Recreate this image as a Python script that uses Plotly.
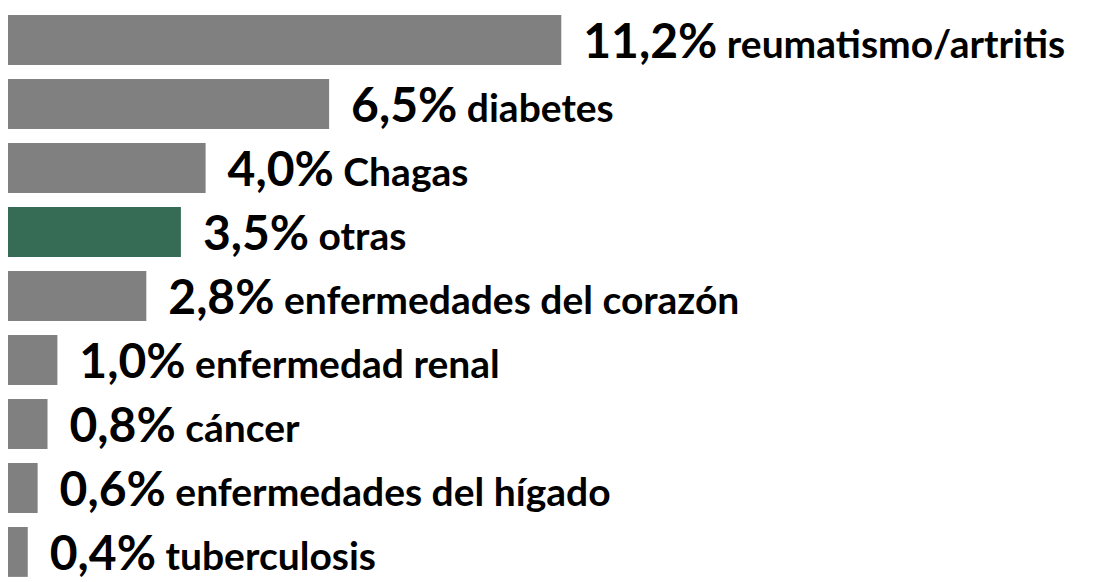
import plotly.graph_objects as go

categories = ["reumatismo/artritis", "diabetes", "Chagas", "otras",
              "enfermedades del corazón", "enfermedad renal", "cáncer",
              "enfermedades del hígado", "tuberculosis"]
values = [11.2, 6.5, 4.0, 3.5, 2.8, 1.0, 0.8, 0.6, 0.4]
highlight = "otras"

GRAY = "#808080"
GREEN = "#366B55"
colors = [GREEN if c == highlight else GRAY for c in categories]

def fmt(v):
    return f"{v:.1f}".replace(".", ",") + "%"

texts = ["\u00a0\u00a0<span style='font-size:48px'>" + fmt(v) + "</span> " + c
         for c, v in zip(categories, values)]

fig = go.Figure(go.Bar(
    x=values,
    y=categories,
    orientation="h",
    marker=dict(color=colors, line=dict(width=0)),
    text=texts,
    textposition="outside",
    textfont=dict(family="Lato, 'Open Sans', sans-serif", size=39, color="#000000", weight="bold"),
    constraintext="none",
    cliponaxis=False,
    hoverinfo="skip",
))

W, H = 1093, 582
px_per_unit = 49.4
x0_px = 8
fig.update_layout(
    width=W, height=H,
    margin=dict(l=0, r=0, t=0, b=0),
    paper_bgcolor="white",
    plot_bgcolor="white",
    showlegend=False,
    bargap=0.22,
    xaxis=dict(visible=False, range=[-x0_px / px_per_unit, (W - x0_px) / px_per_unit], fixedrange=True),
    yaxis=dict(visible=False, type="category", categoryorder="array", categoryarray=categories,
               range=[8.47, -0.625], fixedrange=True),
)

fig.write_html("out.html", config={"displayModeBar": False},
               post_script="document.body.style.margin='0';document.body.style.overflow='hidden';")
